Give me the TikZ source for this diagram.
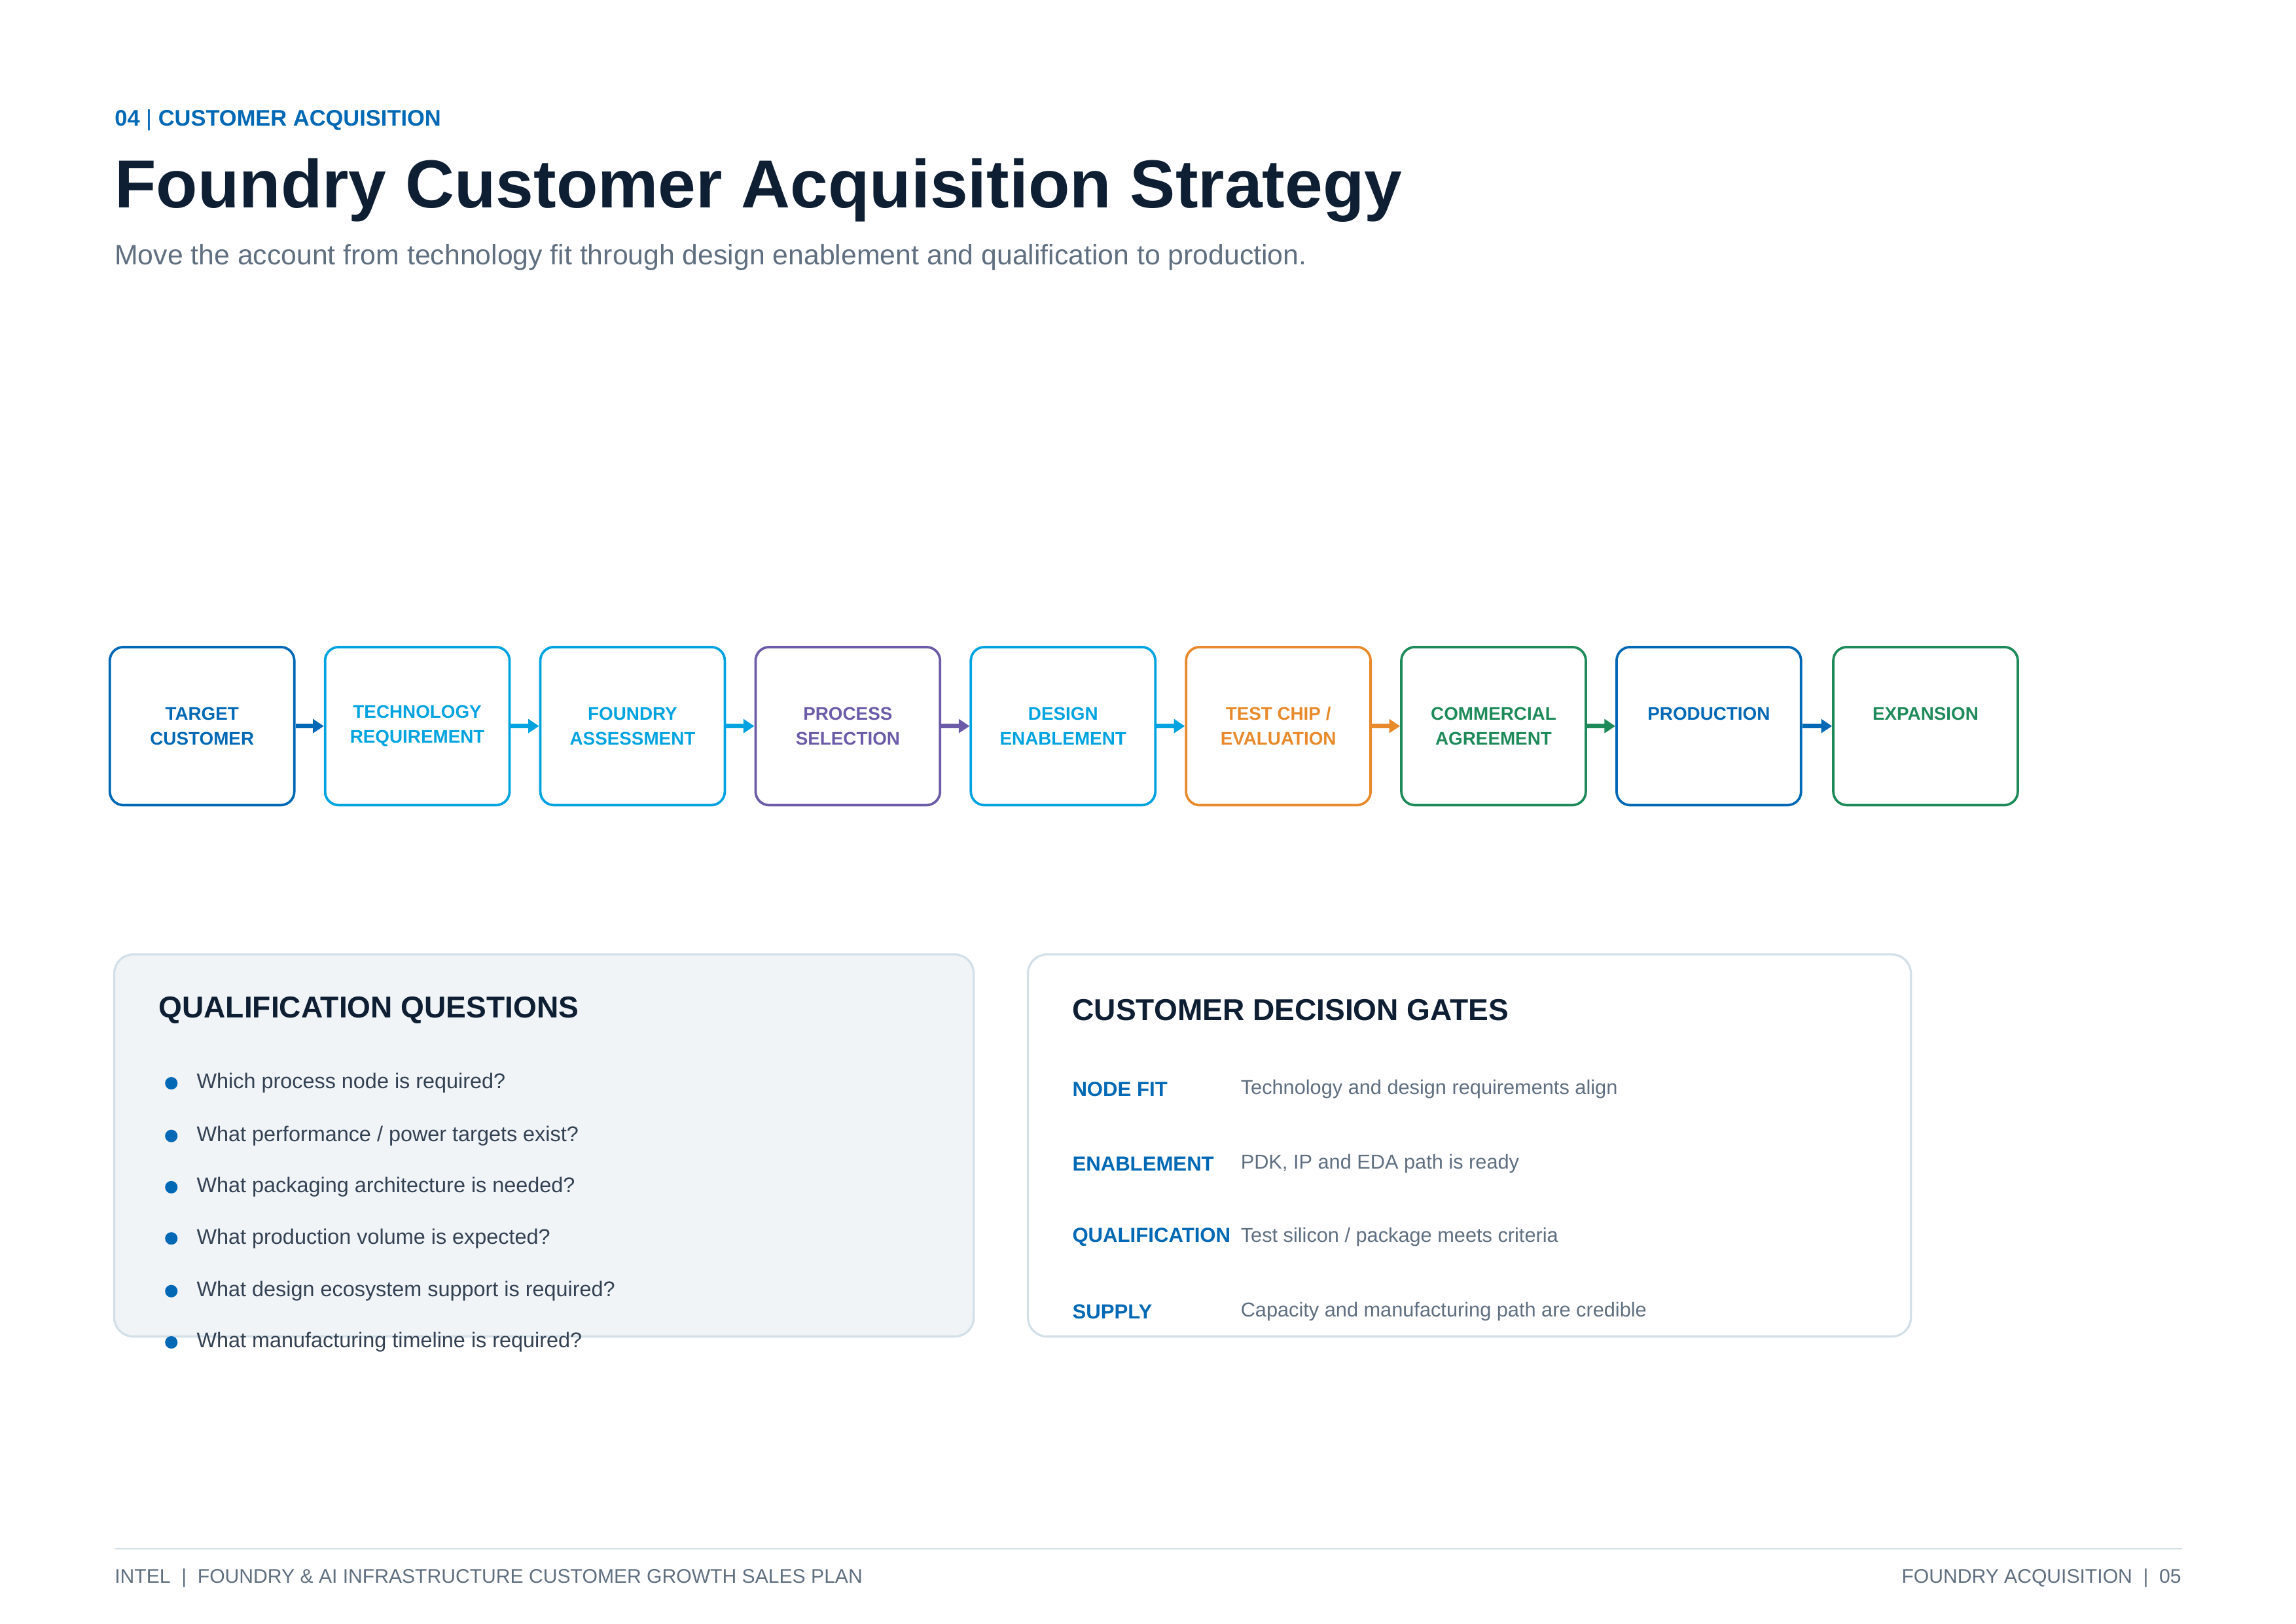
\documentclass[tikz,border=0pt]{standalone}
\usepackage{fontspec}
\setmainfont{Liberation Sans}
\usetikzlibrary{positioning, arrows.meta}
\definecolor{intelblue}{HTML}{0068B5}
\definecolor{skyblue}{HTML}{00A3E0}
\definecolor{violet}{HTML}{6B5BA8}
\definecolor{amber}{HTML}{E8892B}
\definecolor{teal}{HTML}{1E8A5A}
\definecolor{ink}{HTML}{0F1F33}
\definecolor{slate}{HTML}{5F6F80}
\definecolor{panelfill}{HTML}{F0F4F7}
\definecolor{panelline}{HTML}{D3E0E8}
\tikzset{
  step/.style = {rectangle, rounded corners=5pt, draw=#1, text=#1, line width=0.9pt, minimum width=126*0.01894cm, minimum height=108*0.01894cm, align=center, font=\fontsize{6.7}{9.2}\selectfont\bfseries},
  link/.style = {draw=#1, line width=1.6pt, -{Triangle[length=4pt,width=5pt]}},
  panel/.style = {rectangle, rounded corners=7pt, draw=panelline, line width=0.8pt},
  heading/.style = {anchor=west, inner sep=0pt, text=ink, font=\fontsize{11.1}{13}\selectfont\bfseries},
  bullet/.style = {anchor=west, inner sep=0pt, text=ink!85, font=\fontsize{7.8}{10}\selectfont},
  gate/.style = {anchor=west, inner sep=0pt, text=intelblue, font=\fontsize{7.5}{10}\selectfont\bfseries},
  gatetext/.style = {anchor=west, inner sep=0pt, text=slate, font=\fontsize{7.4}{10}\selectfont},
  foot/.style = {inner sep=0pt, text=slate, font=\fontsize{7.25}{9}\selectfont}
}
\begin{document}
\begin{tikzpicture}[x=0.01894cm, y=-0.01894cm]
\useasboundingbox (0,0) rectangle (1568,1109);
% header
\node[anchor=west, inner sep=0pt, text=intelblue, font=\fontsize{8.3}{10}\selectfont\bfseries] (kicker) at (78,82) {04 {\mdseries|} CUSTOMER ACQUISITION};
\node[anchor=west, inner sep=0pt, text=ink, font=\fontsize{25}{30}\selectfont\bfseries] (title) at (78,130) {Foundry Customer Acquisition Strategy};
\node[anchor=west, inner sep=0pt, text=slate, font=\fontsize{10.3}{12}\selectfont] (subtitle) at (78,176) {Move the account from technology fit through design enablement and qualification to production.};
% process steps
\node[step=intelblue] (target) at (138,496) {TARGET\\CUSTOMER};
\node[step=skyblue] (tech) at (285,496) {TECHNOLOGY\\REQUIREMENT};
\node[step=skyblue] (assess) at (432,496) {FOUNDRY\\ASSESSMENT};
\node[step=violet] (process) at (579,496) {PROCESS\\SELECTION};
\node[step=skyblue] (design) at (726,496) {DESIGN\\ENABLEMENT};
\node[step=amber] (testchip) at (873,496) {TEST CHIP /\\EVALUATION};
\node[step=teal] (commercial) at (1020,496) {COMMERCIAL\\AGREEMENT};
\node[step=intelblue] (production) at (1167,496) {PRODUCTION\\\phantom{X}};
\node[step=teal] (expansion) at (1315,496) {EXPANSION\\\phantom{X}};
\draw[link=intelblue] (target) -- (tech);
\draw[link=skyblue] (tech) -- (assess);
\draw[link=skyblue] (assess) -- (process);
\draw[link=violet] (process) -- (design);
\draw[link=skyblue] (design) -- (testchip);
\draw[link=amber] (testchip) -- (commercial);
\draw[link=teal] (commercial) -- (production);
\draw[link=intelblue] (production) -- (expansion);
% qualification panel
\draw[panel, fill=panelfill] (78,652) rectangle (665,913);
\node[heading] (qhead) at (108,690) {QUALIFICATION QUESTIONS};
\foreach \y/\q in {740/{Which process node is required?},
                   776/{What performance / power targets exist?},
                   811/{What packaging architecture is needed?},
                   846/{What production volume is expected?},
                   882/{What design ecosystem support is required?},
                   917/{What manufacturing timeline is required?}}{
  \fill[intelblue] (117,\y) circle (2.3pt);
  \node[bullet] at (134,\y) {\q};
}
% decision gates panel
\draw[panel, fill=white] (702,652) rectangle (1305,913);
\node[heading] (ghead) at (732,690) {CUSTOMER DECISION GATES};
\foreach \y/\g/\t in {744/{NODE FIT}/{Technology and design requirements align},
                      795/{ENABLEMENT}/{PDK, IP and EDA path is ready},
                      845/{QUALIFICATION}/{Test silicon / package meets criteria},
                      896/{SUPPLY}/{Capacity and manufacturing path are credible}}{
  \node[gate] at (732,\y) {\g};
  \node[gatetext] at (847,\y) {\t};
}
% footer
\draw[panelline, line width=0.6pt] (78,1058) -- (1490,1058);
\node[foot, anchor=west] (footl) at (78,1078) {INTEL \ | \ FOUNDRY \& AI INFRASTRUCTURE CUSTOMER GROWTH SALES PLAN};
\node[foot, anchor=east] (footr) at (1490,1078) {FOUNDRY ACQUISITION \ | \ 05};
\end{tikzpicture}
\end{document}
